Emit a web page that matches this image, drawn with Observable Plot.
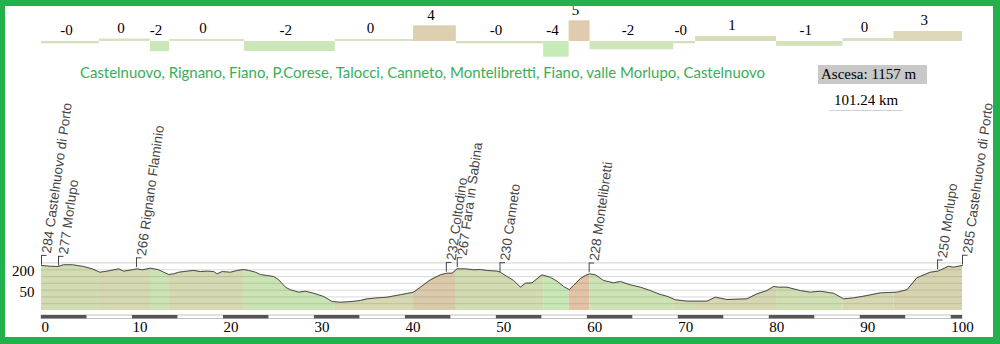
<!DOCTYPE html>
<html><head><meta charset="utf-8">
<script src="https://cdn.jsdelivr.net/npm/d3@7"></script>
<script src="https://cdn.jsdelivr.net/npm/@observablehq/plot@0.6"></script>
<style>
html,body{margin:0;padding:0;background:#fff;}
#wrap{position:relative;width:1000px;height:344px;overflow:hidden;background:#fff;}
#border{position:absolute;left:0;top:0;width:1000px;height:344px;box-sizing:border-box;border-style:solid;border-color:#22b14c;border-width:6px 7px 7px 5px;pointer-events:none;z-index:10;}
.abs{position:absolute;left:0;top:0;}
#ascesa{position:absolute;left:818px;top:65px;width:109px;height:19px;background:#c8c8c8;font:15px "Liberation Serif",serif;line-height:19px;padding-left:3px;box-sizing:border-box;color:#000;white-space:nowrap;}
#dist{position:absolute;left:829px;top:90px;width:74px;height:20px;border-bottom:1px solid #cfcfcf;font:15px "Liberation Serif",serif;text-align:center;line-height:20px;color:#000;}
</style></head>
<body><div id="wrap">
<div id="profile" class="abs"></div>
<div id="bars" class="abs"></div>
<svg class="abs" width="1000" height="100" id="titleSvg"></svg>
<div id="ascesa"></div>
<div id="dist"></div>
<div id="border"></div>
</div>
<script>
const title = "Castelnuovo, Rignano, Fiano, P.Corese, Talocci, Canneto, Montelibretti, Fiano, valle Morlupo, Castelnuovo";
const ascentText = "Ascesa: 1157 m";
const totalKm = 101.24;
const distText = "101.24 km";

// gradient segments
const segStart = [0, 6.37, 11.98, 14.07, 22.3, 32.3, 40.9, 45.6, 55.2, 58.0, 60.3, 69.5, 71.9, 80.8, 88.1, 93.7];
const grades = [-0.56, 0.59, -2.5, 0.49, -2.44, 0.49, 3.83, -0.56, -3.83, 5.05, -2.02, -0.56, 1.22, -1.15, 0.73, 2.44];
const gradeLabels = ["-0","0","-2","0","-2","0","4","-0","-4","5","-2","-0","1","-1","0","3"];

// elevation profile
const profileKm = [0,0.99,1.83,2.42,3.41,4.65,5.57,6.41,7.22,8.49,
9.04,9.97,10.52,11.07,11.98,12.89,13.44,13.99,14.54,15.09,
16.01,16.74,17.47,18.21,18.93,19.31,19.86,20.77,21.51,22.23,
22.78,23.52,24.07,24.80,25.53,26.08,26.81,27.36,28.27,29.01,
29.92,31.02,31.95,32.86,34.14,35.05,35.79,36.89,37.99,39.45,
40.91,41.65,42.75,43.85,44.58,45.13,45.68,46.59,47.51,48.24,
48.98,50.08,50.44,51.18,51.90,52.64,53.19,53.92,55.02,55.93,
56.67,57.40,58.02,58.49,59.23,59.78,60.25,60.88,61.79,62.89,
63.63,64.73,65.82,66.92,68.02,68.76,69.67,70.96,73.15,74.07,
75.35,77.55,78.65,79.75,80.47,81.02,81.95,83.41,84.51,85.60,
87.07,88.16,89.26,90.74,92.20,94.03,95.13,96.23,97.69,98.54,
99.70,100.25,101.24];
const profileElev = [282,276,274,287,287,274,257,232,240,257,
240,250,257,250,262,250,232,215,220,232,
240,245,237,240,237,220,237,232,245,252,
245,232,215,208,200,176,122,103,85,92,
77,53,16,11,16,24,36,43,48,66,
85,122,176,213,225,225,257,257,250,252,
245,240,232,200,171,122,151,154,213,195,
166,127,103,134,184,208,220,213,171,154,
164,139,122,97,68,55,29,19,19,48,
31,36,73,97,127,122,122,97,85,92,
77,36,43,60,80,85,103,191,232,240,
276,269,282];

// places
const placeKm = [0, 1.87, 10.44, 44.5, 45.7, 50.4, 60.2, 98.5, 101.24];
const placeElev = [284, 277, 266, 232, 267, 230, 228, 250, 285];
const placeName = ["Castelnuovo di Porto","Morlupo","Rignano Flaminio","Coltodino","Fara in Sabina","Canneto","Montelibretti","Morlupo","Castelnuovo di Porto"];

const xTicks = [0,10,20,30,40,50,60,70,80,90,100];
const yTicks = [50, 200];
const gridLevels = [0,50,100,150,200,250,300];
const scaleBarStarts = [0,10,20,30,40,50,60,70,80,90,100];

const segs = segStart.map((s,i)=>({x1:s, x2: i+1<segStart.length ? segStart[i+1] : totalKm, g: grades[i], label: gradeLabels[i]}));
const profile = profileKm.map((k,i)=>({km:k, elev:profileElev[i]}));
const places = placeKm.map((k,i)=>({km:k, elev:placeElev[i], name:placeName[i]}));

const gradeDomain = [-4,-2,-0.5,0.5,1,3,4,5];
const barColors = ["#c6ebb9","#cde5b8","#d4dfbd","#dcdfc3","#dadcbc","#ddd6b6","#dccfb0","#e1cbae"];
const bandColors = ["#c6e8b4","#cde3b3","#d1dcb1","#d6d8b1","#d6d7b0","#d8d1ae","#dcc9a9","#e4c3a5"];

const serif = "Liberation Serif, Times New Roman, serif";

// top gradient bars
const bars = Plot.plot({
  width:1000, height:60, marginLeft:41, marginRight:38, marginTop:0, marginBottom:0,
  style:{background:"transparent", overflow:"visible"},
  x:{domain:[0,totalKm], axis:null},
  y:{domain:[-19/4.1, 41/4.1], axis:null},
  color:{type:"linear", domain:gradeDomain, range:barColors},
  marks:[
    Plot.rect(segs,{x1:"x1",x2:"x2",y1:0,y2:"g",fill:"g"}),
    Plot.text(segs,{x:d=>(d.x1+d.x2)/2, y:d=>Math.max(0,d.g), dy:-11, dx:-4, text:"label", fontSize:15, fontFamily:serif, fill:"#000"})
  ]
});
document.getElementById("bars").appendChild(bars);

// profile
const prof = Plot.plot({
  width:1000, height:344, marginLeft:41, marginRight:38, marginTop:262.5, marginBottom:34,
  style:{background:"transparent", overflow:"visible"},
  x:{domain:[0,totalKm]},
  y:{domain:[-50,300]},
  color:{type:"linear", domain:gradeDomain, range:bandColors},
  marks:[
    Plot.rect(segs,{x1:"x1",x2:"x2",y1:-50,y2:300,fill:"g"}),
    Plot.areaY(profile,{x:"km",y1:"elev",y2:300,fill:"white"}),
    Plot.ruleY(gridLevels,{stroke:"#808080",strokeOpacity:0.3}),
    Plot.line(profile,{x:"km",y:"elev",stroke:"#4a4a4a",strokeWidth:1}),
    Plot.rect([totalKm],{x1:0,x2:d=>d,y1:-50,y2:-75,dy:5,fill:"white",stroke:"#aaa",strokeWidth:0.7}),
    Plot.rect(scaleBarStarts,{x1:d=>d,x2:d=>Math.min(d+5,totalKm),y1:-50,y2:-75,dy:5,fill:"#555"}),
    Plot.ruleX(places,{x:"km",y1:"elev",y2:d=>d.elev+72,stroke:"#444"}),
    Plot.link(places,{x1:"km",x2:d=>d.km+0.55,y1:d=>d.elev+72,y2:d=>d.elev+72,stroke:"#444"}),
    Plot.text(places,{x:"km",y:"elev",text:d=>`${d.elev} ${d.name}`,rotate:-82,textAnchor:"start",dx:5,dy:-12,fontSize:13.5,fontFamily:"Liberation Sans, Arial, sans-serif",fill:"#444"}),
    Plot.axisY({ticks:yTicks,tickSize:0,tickPadding:7,dy:-5,fontSize:15,fontFamily:serif,fill:"#000",label:null}),
    Plot.axisX({ticks:xTicks,tickSize:0,tickPadding:11,textAnchor:"start",fontSize:15,fontFamily:serif,fill:"#000",label:null,tickFormat:d=>String(d)})
  ]
});
document.getElementById("profile").appendChild(prof);

// title
const ns = "http://www.w3.org/2000/svg";
const t = document.createElementNS(ns,"text");
t.setAttribute("x","80"); t.setAttribute("y","78");
t.setAttribute("textLength","685"); t.setAttribute("lengthAdjust","spacingAndGlyphs");
t.setAttribute("font-family","Lato, 'Open Sans', sans-serif"); t.setAttribute("font-size","15");
t.setAttribute("fill","#3aae57");
t.textContent = title;
document.getElementById("titleSvg").appendChild(t);
document.getElementById("ascesa").textContent = ascentText;
document.getElementById("dist").textContent = distText;
</script>
</body></html>
